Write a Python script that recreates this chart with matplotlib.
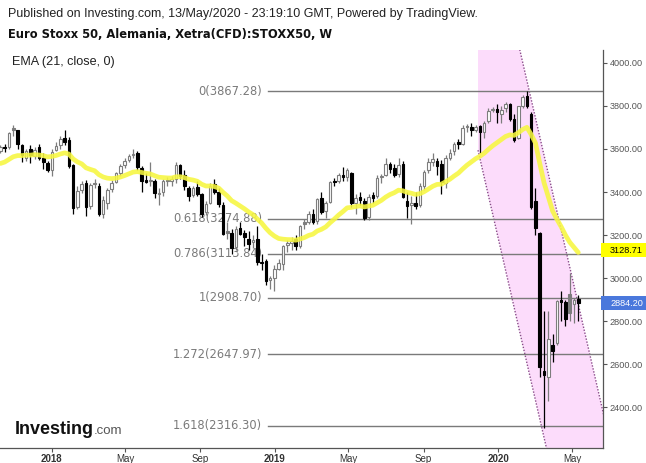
import numpy as np
import pandas as pd
import matplotlib
matplotlib.use("Agg")
import matplotlib.pyplot as plt
import matplotlib.transforms as mtransforms
from matplotlib.patches import Rectangle

plt.rcParams['font.family'] = ['Liberation Sans', 'DejaVu Sans']

# ---------------- data ----------------
first_week = '2017-10-09'
opens = [3590, 3607, 3610, 3695, 3687, 3620, 3560, 3600, 3565, 3610, 3560, 3535,
         3500, 3595, 3620, 3650, 3640, 3525, 3330, 3410, 3440, 3335, 3440, 3430,
         3300, 3350, 3415, 3445, 3490, 3525, 3550, 3570, 3580, 3510, 3455, 3450,
         3450, 3390, 3400, 3455, 3450, 3460, 3525, 3480, 3420, 3385, 3425, 3390,
         3305, 3350, 3435, 3400, 3340, 3215, 3210, 3145, 3235, 3210, 3180, 3170,
         3180, 3070, 3080, 2990, 3000, 3045, 3065, 3155, 3165, 3180, 3150, 3260,
         3260, 3300, 3265, 3370, 3310, 3355, 3450, 3450, 3480, 3470, 3490, 3350,
         3375, 3360, 3285, 3385, 3380, 3470, 3480, 3530, 3510, 3485, 3530, 3360,
         3340, 3350, 3340, 3430, 3500, 3540, 3545, 3530, 3440, 3560, 3590, 3630,
         3625, 3705, 3700, 3690, 3705, 3680, 3730, 3780, 3785, 3760, 3790, 3810,
         3740, 3650, 3800, 3845, 3760, 3360, 3210, 2570, 2540, 2690, 2700, 2900,
         2890, 2925, 2880, 2905]
highs = [3620, 3625, 3680, 3709, 3690, 3625, 3600, 3620, 3610, 3625, 3580, 3545,
         3600, 3630, 3660, 3690, 3655, 3530, 3430, 3450, 3455, 3440, 3460, 3440,
         3380, 3420, 3455, 3495, 3530, 3560, 3575, 3600, 3590, 3520, 3490, 3540,
         3460, 3420, 3460, 3470, 3475, 3540, 3530, 3500, 3430, 3430, 3450, 3395,
         3360, 3440, 3460, 3420, 3355, 3260, 3230, 3240, 3260, 3225, 3220, 3200,
         3240, 3110, 3090, 3010, 3060, 3090, 3155, 3175, 3190, 3200, 3245, 3275,
         3310, 3320, 3370, 3400, 3360, 3450, 3465, 3490, 3515, 3510, 3495, 3390,
         3400, 3370, 3390, 3400, 3480, 3485, 3560, 3540, 3530, 3560, 3545, 3400,
         3380, 3400, 3440, 3500, 3560, 3580, 3560, 3550, 3570, 3600, 3630, 3645,
         3710, 3715, 3720, 3710, 3710, 3730, 3790, 3795, 3810, 3800, 3820, 3815,
         3760, 3800, 3850, 3867, 3770, 3420, 3215, 2850, 2850, 2740, 2900, 2940,
         2900, 3025, 2910, 2920]
lows = [3580, 3585, 3600, 3660, 3600, 3540, 3545, 3533, 3555, 3550, 3505, 3495,
        3475, 3590, 3600, 3620, 3510, 3300, 3320, 3395, 3290, 3320, 3420, 3290,
        3280, 3320, 3400, 3440, 3475, 3510, 3540, 3560, 3500, 3400, 3440, 3430,
        3370, 3340, 3380, 3430, 3430, 3440, 3460, 3410, 3360, 3375, 3380, 3285,
        3295, 3345, 3390, 3330, 3200, 3180, 3110, 3130, 3200, 3150, 3130, 3140,
        3060, 3040, 2970, 2950, 2940, 3040, 3040, 3120, 3130, 3130, 3140, 3230,
        3250, 3250, 3250, 3300, 3280, 3350, 3430, 3440, 3450, 3450, 3330, 3300,
        3340, 3270, 3270, 3350, 3370, 3440, 3475, 3490, 3470, 3470, 3370, 3280,
        3250, 3320, 3330, 3410, 3490, 3520, 3480, 3390, 3420, 3550, 3570, 3600,
        3620, 3680, 3660, 3680, 3580, 3650, 3720, 3770, 3720, 3720, 3770, 3730,
        3630, 3645, 3790, 3790, 3320, 3200, 2540, 2305, 2430, 2610, 2690, 2800,
        2780, 2800, 2790, 2800]
closes = [3607, 3605, 3674, 3687, 3622, 3570, 3592, 3570, 3596, 3556, 3540, 3504,
          3586, 3613, 3648, 3631, 3522, 3325, 3404, 3438, 3330, 3432, 3436, 3300,
          3361, 3408, 3443, 3486, 3519, 3545, 3565, 3574, 3515, 3453, 3448, 3455,
          3395, 3396, 3450, 3450, 3460, 3527, 3475, 3426, 3381, 3420, 3393, 3300,
          3344, 3430, 3399, 3345, 3206, 3212, 3142, 3230, 3206, 3190, 3160, 3173,
          3074, 3073, 2987, 3001, 3041, 3070, 3150, 3163, 3173, 3150, 3240, 3253,
          3299, 3262, 3366, 3305, 3351, 3448, 3445, 3480, 3469, 3503, 3350, 3371,
          3365, 3280, 3379, 3373, 3467, 3474, 3528, 3506, 3481, 3527, 3376, 3333,
          3347, 3334, 3427, 3495, 3538, 3552, 3522, 3447, 3557, 3579, 3625, 3623,
          3699, 3700, 3688, 3703, 3680, 3720, 3777, 3782, 3773, 3781, 3808, 3740,
          3640, 3798, 3840, 3800, 3329, 3232, 2586, 2549, 2716, 2663, 2893, 2888,
          2809, 2840, 2900, 2884.20]
ema_period = 21
ema_seed = 3525
ema_last_label = 3128.71
last_close_label = 2884.20

fib_ratios = ['0', '0.618', '0.786', '1', '1.272', '1.618']
fib_values = [3867.28, 3274.88, 3113.84, 2908.70, 2647.97, 2316.30]
fib_start = '2018-12-20'

chan_start = '2019-11-29'
chan_lower_at_start = 3594
chan_upper_at_start = 4904
chan_slope_per_day = -12.35

y_ticks = [2400, 2600, 2800, 3000, 3200, 3400, 3600, 3800, 4000]
x_tick_dates = ['2018-01-01', '2018-05-01', '2018-09-01', '2019-01-01', '2019-05-01',
                '2019-09-01', '2020-01-01', '2020-05-01']
x_tick_labels = ['2018', 'May', 'Sep', '2019', 'May', 'Sep', '2020', 'May']

# ---------------- figure ----------------
W, H = 646, 463
fig = plt.figure(figsize=(W / 100, H / 100), dpi=100)
ax = fig.add_axes([0, (H - 448) / H, 603 / W, (448 - 50) / H])

dates = pd.date_range(first_week, periods=len(closes), freq='7D')
o = np.array(opens, float); h = np.array(highs, float)
l = np.array(lows, float); c = np.array(closes, float)
prev = np.concatenate([[c[0] - 1], c[:-1]])

gray, black = '#7d7d7d', '#000000'
cols = [gray if c[i] >= prev[i] else black for i in range(len(c))]

# channel
cs = pd.Timestamp(chan_start)
xend = pd.Timestamp('2020-07-15')
days = (xend - cs).days
cx = [cs, xend]
lower = [chan_lower_at_start, chan_lower_at_start + chan_slope_per_day * days]
upper = [chan_upper_at_start, chan_upper_at_start + chan_slope_per_day * days]
ax.fill_between(cx, lower, upper, color='#fcdcfb', zorder=0, linewidth=0)
ax.plot(cx, lower, color='#8a4d8a', lw=1, ls=(0, (1, 1.2)), zorder=1)
ax.plot(cx, upper, color='#8a4d8a', lw=1, ls=(0, (1, 1.2)), zorder=1)

# fib levels
fs = pd.Timestamp(fib_start)
for r, v in zip(fib_ratios, fib_values):
    ax.plot([fs, xend], [v, v], color='#7a7a7a', lw=1, zorder=1.5)
    ax.annotate(f'{r}({v:.2f})', xy=(fs, v), xytext=(-4, 0), textcoords='offset points',
                ha='right', va='center', fontsize=8.3, color='#7a7a7a',
                family=['DejaVu Sans'], zorder=1.6)

# candles
ax.vlines(dates, l, h, colors=cols, lw=0.9, zorder=3)
for i in range(len(c)):
    bottom = min(o[i], c[i])
    height = max(abs(c[i] - o[i]), 5)
    filled = c[i] < o[i]
    ax.bar(dates[i], height, bottom=bottom, width=4.2,
           facecolor=cols[i] if filled else 'white', edgecolor=cols[i],
           linewidth=0.8, zorder=4)

# EMA
alpha = 2 / (ema_period + 1)
ema = []
e = ema_seed
for v in c:
    e = alpha * v + (1 - alpha) * e
    ema.append(e)
ax.plot(dates, ema, color='#f7f740', lw=3.4, alpha=0.88, zorder=5, solid_capstyle='round')

# axes cosmetics
x0 = pd.Timestamp('2018-01-01') - pd.Timedelta(days=84.7)
x1 = pd.Timestamp('2018-01-01') + pd.Timedelta(days=901.4)
ax.set_xlim(x0, x1)
ax.set_ylim(2212, 4059)
for s in ['top', 'left']:
    ax.spines[s].set_visible(False)
for s in ['right', 'bottom']:
    ax.spines[s].set_color('#555555')
    ax.spines[s].set_linewidth(0.9)
ax.yaxis.tick_right()
ax.set_yticks(y_ticks)
ax.set_yticklabels([f'{t:.2f}' for t in y_ticks])
ax.tick_params(axis='y', colors='#555555', labelsize=6.6, length=3, width=0.8, pad=2)
ax.set_xticks(pd.to_datetime(x_tick_dates))
ax.set_xticklabels(x_tick_labels)
ax.tick_params(axis='x', colors='#555555', labelsize=7, length=3, width=0.8, pad=1)
for lab in ax.get_xticklabels():
    lab.set_color('#333333')
    if lab.get_text().isdigit():
        lab.set_fontweight('bold')
for lab in ax.get_yticklabels():
    lab.set_color('#555555')

# price boxes on axis
blend = mtransforms.blended_transform_factory(ax.transAxes, ax.transData)
box_w = (W - 601) / 603
box_h = 14 * (4059 - 2212) / (448 - 50)
for val, fc, tc in [(ema_last_label, '#ffff00', '#000000'), (last_close_label, '#4a78dc', '#ffffff')]:
    ax.add_patch(Rectangle((1.0 - 2 / 603, val - box_h / 2), box_w, box_h, transform=blend,
                           facecolor=fc, edgecolor='none', clip_on=False, zorder=10))
    ax.text(1.0 + 7 / 603, val, f'{val:.2f}', transform=blend, ha='left', va='center',
            fontsize=6.6, color=tc, zorder=11, clip_on=False)

# header texts
fig.text(8 / W, 1 - 14 / H, 'Published on Investing.com, 13/May/2020 - 23:19:10 GMT, Powered by TradingView.',
         fontsize=9.0, color='#222222', va='center', ha='left')
fig.text(8 / W, 1 - 34 / H, 'Euro Stoxx 50, Alemania, Xetra(CFD):STOXX50, W',
         fontsize=8.3, fontweight='bold', color='#111111', va='center', ha='left',
         family=['DejaVu Sans'])
fig.text(12 / W, 1 - 62 / H, 'EMA (21, close, 0)', fontsize=9.1, color='#222222',
         va='center', ha='left')

# logo
fig.text(15 / W, 1 - 434 / H, 'Investing', fontsize=13, fontweight='bold',
         color='#111111', va='baseline', ha='left')
fig.text(94 / W, 1 - 434 / H, '.com', fontsize=9.5, color='#555555', va='baseline', ha='left')

fig.savefig('out.png', dpi=100, facecolor='white')
